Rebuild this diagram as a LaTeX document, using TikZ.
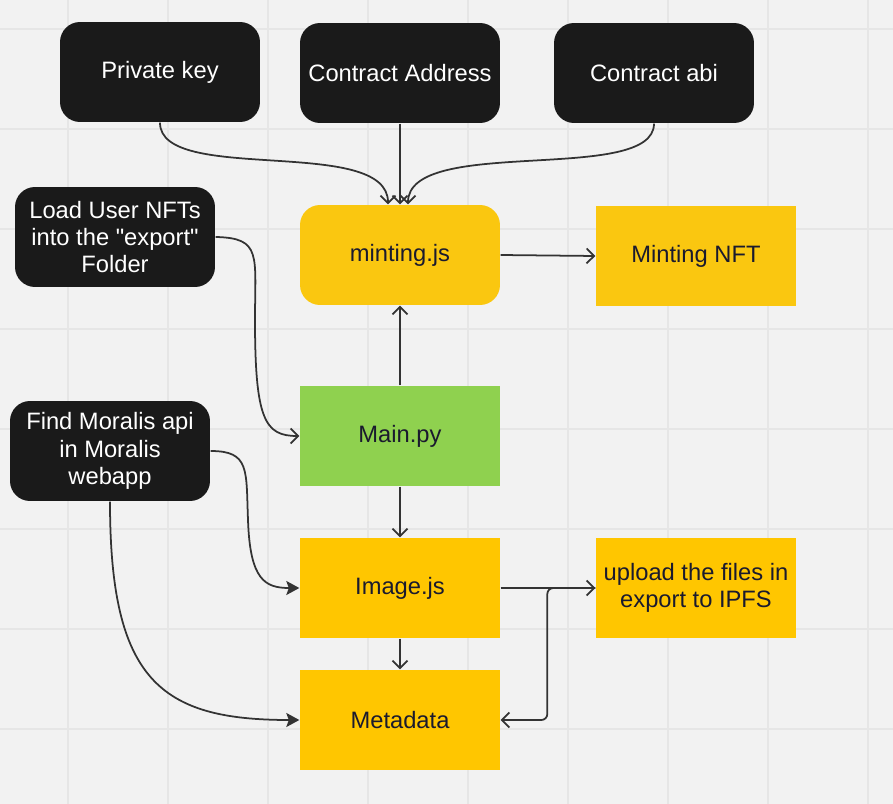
\documentclass[tikz,border=0pt]{standalone}
\usepackage{fontspec}
\setmainfont{Liberation Sans}[Ligatures=TeXOff]
\usetikzlibrary{arrows.meta}
\definecolor{canvas}{HTML}{F2F2F2}
\definecolor{gridgray}{HTML}{E6E6E6}
\definecolor{boxblack}{HTML}{1A1A1A}
\definecolor{mintyellow}{HTML}{FAC710}
\definecolor{stepyellow}{HTML}{FFC600}
\definecolor{stepgreen}{HTML}{8FD14F}
\definecolor{inkdark}{HTML}{1A1A2E}
\definecolor{wire}{HTML}{333333}
\begin{document}
\begin{tikzpicture}[x=0.02cm, y=-0.02cm, thick]
\tikzset{darkbox/.style={fill=boxblack, text=white, rounded corners=0.4cm,
minimum width=4cm, minimum height=2cm, align=center,
font=\fontsize{13.5}{15.5}\selectfont},
mintbox/.style={darkbox, fill=mintyellow, text=inkdark},
flatbox/.style={fill=stepyellow, text=inkdark, minimum width=4cm,
minimum height=2cm, align=center, font=\fontsize{13.5}{15.5}\selectfont},
greenbox/.style={flatbox, fill=stepgreen},
gridline/.style={draw=gridgray, line width=0.6pt},
link/.style={draw=wire, line width=1pt, -{Straight Barb[length=1.5mm,width=3mm]}},
solidlink/.style={draw=wire, line width=1pt, -{Stealth[length=2.6mm,width=2.8mm,inset=0.5mm]}},
}
\fill[canvas] (0,0) rectangle (893,804);
\useasboundingbox (0,0) rectangle (893,804);
\foreach \x in {68,168,...,868} \draw[gridline] (\x,0) -- (\x,804);
\foreach \y in {29,129,...,729} \draw[gridline] (0,\y) -- (893,\y);

\node[darkbox] (pk) at (160,72) {Private key};
\node[darkbox] (addr) at (400,73) {Contract Address};
\node[darkbox] (abi) at (654,73) {Contract abi};
\node[darkbox] (load) at (115,237) {Load User NFTs\\into the "export"\\Folder};
\node[darkbox] (find) at (110,451) {Find Moralis api\\in Moralis\\webapp};
\node[mintbox] (mint) at (400,255) {minting.js};
\node[flatbox, fill=mintyellow] (nft) at (696,256) {Minting NFT};
\node[greenbox] (main) at (400,436) {Main.py};
\node[flatbox] (img) at (400,588) {Image.js};
\node[flatbox] (ipfs) at (696,588) {upload the files in\\export to IPFS};
\node[flatbox] (meta) at (400,720) {Metadata};

\draw[link] (pk.south) .. controls (160,185) and (388,135) .. ([xshift=-0.24cm]mint.north);
\draw[link] (addr.south) -- (mint.north);
\draw[link] (abi.south) .. controls (654,185) and (408,135) .. ([xshift=0.16cm]mint.north);
\draw[link] (load.east) .. controls (262,238) and (255,255) .. (255,320)
.. controls (255,420) and (265,436) .. (main.west);
\draw[link] (main.north) -- (mint.south);
\draw[link] (mint.east) -- (nft.west);
\draw[link] (main.south) -- (img.north);
\draw[solidlink] (find.east) .. controls (250,451) and (246,470) .. (248,520)
.. controls (250,580) and (265,588) .. (img.west);
\draw[solidlink] (find.south) .. controls (110,680) and (160,720) .. (meta.west);
\draw[link] (img.south) -- (meta.north);
\draw[link] (img.east) -- (ipfs.west);
\draw[link, rounded corners=0.12cm] (ipfs.west) -- ++(-48,0) |- (meta.east);
\end{tikzpicture}
\end{document}
